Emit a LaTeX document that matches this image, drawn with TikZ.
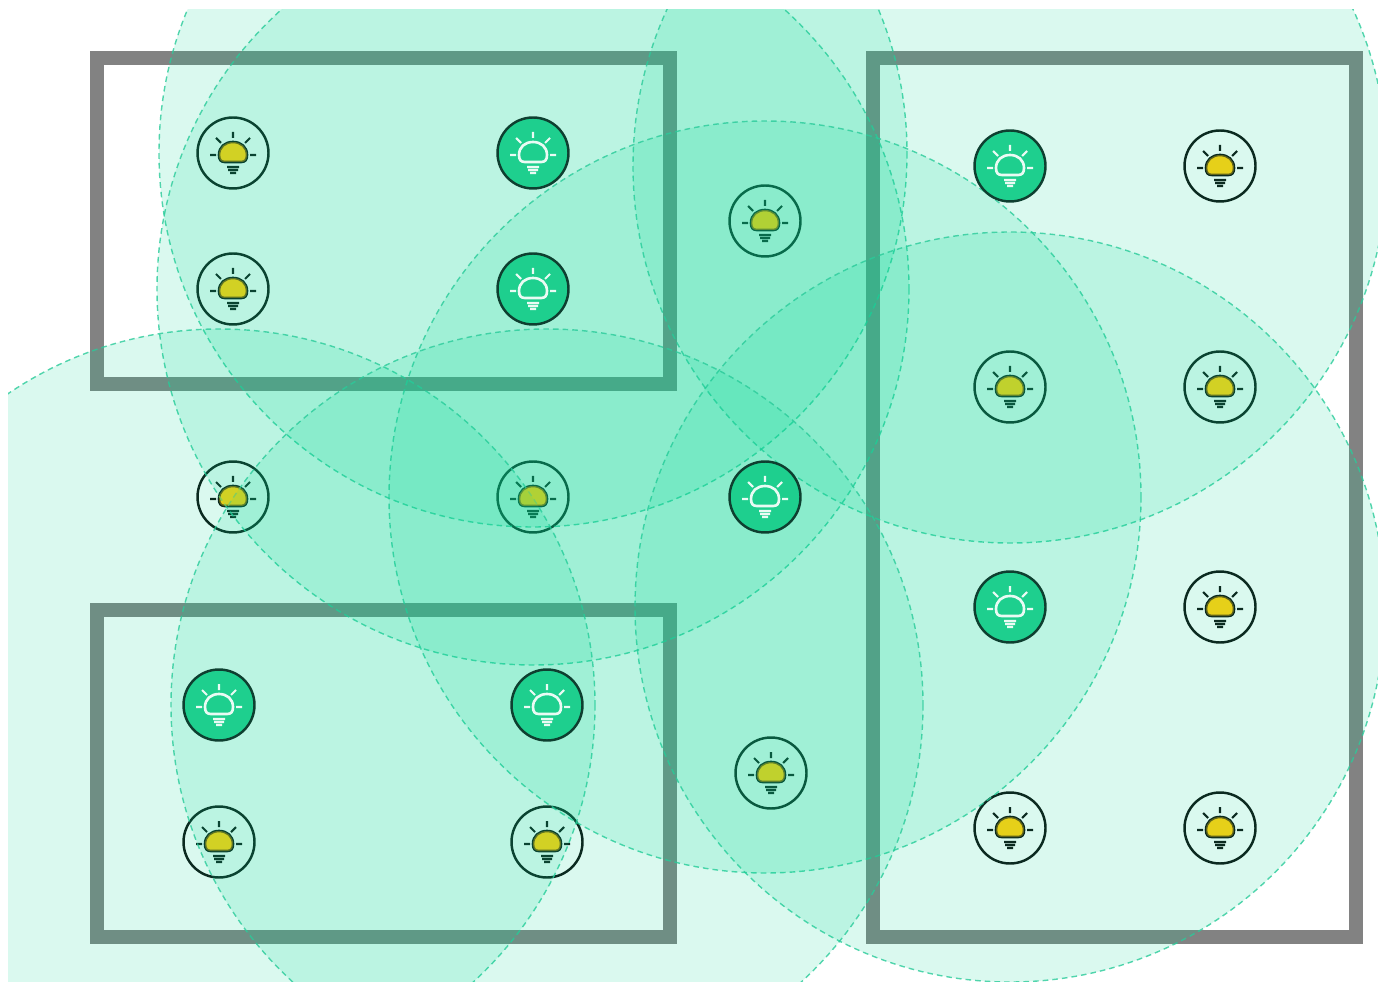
\documentclass[tikz,border=0pt]{standalone}
\usepackage{xcolor}
\usetikzlibrary{positioning}
\definecolor{tinta}{HTML}{0C0C0C}
\definecolor{marco}{HTML}{828282}
\definecolor{verde}{HTML}{1ECF8E}
\definecolor{luz}{HTML}{08D894}
\definecolor{borde}{HTML}{2ACB9A}
\definecolor{amarillo}{HTML}{FFD00C}
\definecolor{oscuro}{HTML}{0E3F30}
\definecolor{claro}{HTML}{EAFBF4}
\newcommand{\domepath}{(-14,2) .. controls (-14,-6) and (-8,-11) .. (0,-11)
  .. controls (8,-11) and (14,-6) .. (14,2) .. controls (14,7) and (12,9) .. (8,9)
  -- (-8,9) .. controls (-12,9) and (-14,7) .. (-14,2) -- cycle}
\begin{document}
\begin{tikzpicture}[x=0.02cm,y=-0.02cm,
    frameroom/.style={draw=marco,line width=7.9pt,inner sep=0pt,anchor=north west},
    lamp/.style={circle,draw=tinta,line width=1.4pt,minimum size=1.42cm,inner sep=0pt},
    lit/.style={lamp,draw=oscuro,fill=verde},
    coverage/.style={fill=luz,fill opacity=0.15,draw=borde,draw opacity=0.8,
                     line width=0.8pt,dash pattern=on 3.2pt off 2.3pt},
    pics/bulb/.style 2 args={code={
      \draw[#1,line width=1.5pt,fill=#2] \domepath;
      \draw[#1,line width=1.2pt] (0,-21) -- (0,-15) (-17,-15) -- (-12,-10) (17,-15) -- (12,-10)
        (-23,2) -- (-17,2) (23,2) -- (17,2)
        (-6,14) -- (6,14) (-5,17) -- (5,17) (-3,20) -- (3,20);
    }}]
  \useasboundingbox (0,0) rectangle (1378,982);
  % rooms
  \node[frameroom,minimum width=11.46cm,minimum height=6.52cm] (roomA) at (90,51) {};
  \node[frameroom,minimum width=11.46cm,minimum height=6.54cm] (roomB) at (90,603) {};
  \node[frameroom,minimum width=9.66cm,minimum height=17.58cm] (roomC) at (866,51) {};
  % lamps that are off
  \foreach \n/\x/\y in {a/233/153,b/233/289,c/765/221,d/1220/166,e/1010/387,f/1220/387,
      g/233/497,h/533/497,i/1220/607,j/219/842,k/547/842,l/771/773,m/1010/828,n/1220/828}{
    \node[lamp] (off\n) at (\x,\y) {};
    \pic at (off\n.center) {bulb={tinta}{amarillo}};
  }
  % anchors of the light
  \foreach \n/\x/\y in {a/533/153,b/533/289,c/1010/166,d/765/497,e/1010/607,f/219/705,g/547/705}{
    \coordinate (src\n) at (\x,\y);
  }
  % light
  \begin{scope}
    \clip (8,10) rectangle (1378,982);
    \foreach \n/\r in {a/374,b/376,c/377,d/376,e/375,f/376,g/376}{
      \path[coverage] (src\n) circle[radius=\r];
    }
  \end{scope}
  % keep some of the yellow
  \foreach \n in {a,b,c,d,e,f,g,h,i,j,k,l,m,n}{
    \fill[amarillo,fill opacity=0.35,shift={(off\n.center)}] \domepath;
  }
  % lamps that are on
  \foreach \n in {a,b,c,d,e,f,g}{
    \node[lit] (on\n) at (src\n) {};
    \pic at (on\n.center) {bulb={claro}{verde}};
  }
\end{tikzpicture}
\end{document}
